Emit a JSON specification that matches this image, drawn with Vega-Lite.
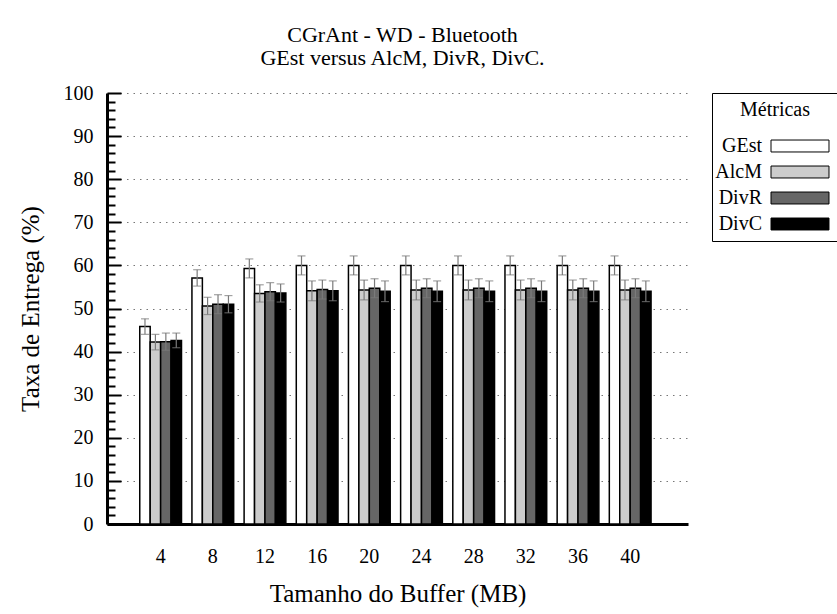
{
  "$schema": "https://vega.github.io/schema/vega-lite/v6.json",
  "width": 581,
  "height": 431,
  "autosize": {"type": "none"},
  "padding": {"left": 107, "top": 93, "right": 149, "bottom": 90},
  "background": "white",
  "config": {
    "font": "Liberation Serif",
    "view": {"stroke": null}
  },
  "title": {
    "text": ["CGrAnt - WD - Bluetooth", "GEst versus AlcM, DivR, DivC."],
    "font": "Liberation Serif",
    "fontSize": 22,
    "fontWeight": "normal",
    "color": "black",
    "lineHeight": 23,
    "anchor": "middle",
    "offset": 13,
    "dx": 5
  },
  "data": {
    "values": [
      {"buffer": 4, "metric": "GEst", "value": 45.8, "lo": 44.0, "hi": 47.6},
      {"buffer": 4, "metric": "AlcM", "value": 42.2, "lo": 40.4, "hi": 44.0},
      {"buffer": 4, "metric": "DivR", "value": 42.3, "lo": 40.3, "hi": 44.3},
      {"buffer": 4, "metric": "DivC", "value": 42.6, "lo": 40.9, "hi": 44.3},
      {"buffer": 8, "metric": "GEst", "value": 57.1, "lo": 55.2, "hi": 59.0},
      {"buffer": 8, "metric": "AlcM", "value": 50.6, "lo": 48.6, "hi": 52.6},
      {"buffer": 8, "metric": "DivR", "value": 51.0, "lo": 48.8, "hi": 53.2},
      {"buffer": 8, "metric": "DivC", "value": 51.0, "lo": 49.0, "hi": 53.0},
      {"buffer": 12, "metric": "GEst", "value": 59.3, "lo": 57.1, "hi": 61.5},
      {"buffer": 12, "metric": "AlcM", "value": 53.5, "lo": 51.5, "hi": 55.5},
      {"buffer": 12, "metric": "DivR", "value": 53.9, "lo": 51.8, "hi": 56.0},
      {"buffer": 12, "metric": "DivC", "value": 53.6, "lo": 51.5, "hi": 55.7},
      {"buffer": 16, "metric": "GEst", "value": 60.0, "lo": 57.8, "hi": 62.2},
      {"buffer": 16, "metric": "AlcM", "value": 54.1, "lo": 51.8, "hi": 56.4},
      {"buffer": 16, "metric": "DivR", "value": 54.4, "lo": 52.2, "hi": 56.6},
      {"buffer": 16, "metric": "DivC", "value": 54.1, "lo": 51.8, "hi": 56.4},
      {"buffer": 20, "metric": "GEst", "value": 60.0, "lo": 57.8, "hi": 62.2},
      {"buffer": 20, "metric": "AlcM", "value": 54.3, "lo": 52.0, "hi": 56.6},
      {"buffer": 20, "metric": "DivR", "value": 54.7, "lo": 52.5, "hi": 56.9},
      {"buffer": 20, "metric": "DivC", "value": 54.0, "lo": 51.6, "hi": 56.4},
      {"buffer": 24, "metric": "GEst", "value": 60.0, "lo": 57.8, "hi": 62.2},
      {"buffer": 24, "metric": "AlcM", "value": 54.3, "lo": 52.0, "hi": 56.6},
      {"buffer": 24, "metric": "DivR", "value": 54.7, "lo": 52.5, "hi": 56.9},
      {"buffer": 24, "metric": "DivC", "value": 54.0, "lo": 51.6, "hi": 56.4},
      {"buffer": 28, "metric": "GEst", "value": 60.0, "lo": 57.8, "hi": 62.2},
      {"buffer": 28, "metric": "AlcM", "value": 54.3, "lo": 52.0, "hi": 56.6},
      {"buffer": 28, "metric": "DivR", "value": 54.7, "lo": 52.5, "hi": 56.9},
      {"buffer": 28, "metric": "DivC", "value": 54.0, "lo": 51.6, "hi": 56.4},
      {"buffer": 32, "metric": "GEst", "value": 60.0, "lo": 57.8, "hi": 62.2},
      {"buffer": 32, "metric": "AlcM", "value": 54.3, "lo": 52.0, "hi": 56.6},
      {"buffer": 32, "metric": "DivR", "value": 54.7, "lo": 52.5, "hi": 56.9},
      {"buffer": 32, "metric": "DivC", "value": 54.0, "lo": 51.6, "hi": 56.4},
      {"buffer": 36, "metric": "GEst", "value": 60.0, "lo": 57.8, "hi": 62.2},
      {"buffer": 36, "metric": "AlcM", "value": 54.3, "lo": 52.0, "hi": 56.6},
      {"buffer": 36, "metric": "DivR", "value": 54.7, "lo": 52.5, "hi": 56.9},
      {"buffer": 36, "metric": "DivC", "value": 54.0, "lo": 51.6, "hi": 56.4},
      {"buffer": 40, "metric": "GEst", "value": 60.0, "lo": 57.8, "hi": 62.2},
      {"buffer": 40, "metric": "AlcM", "value": 54.3, "lo": 52.0, "hi": 56.6},
      {"buffer": 40, "metric": "DivR", "value": 54.7, "lo": 52.5, "hi": 56.9},
      {"buffer": 40, "metric": "DivC", "value": 54.0, "lo": 51.6, "hi": 56.4}
    ]
  },
  "encoding": {
    "x": {
      "field": "buffer",
      "type": "ordinal",
      "scale": {"paddingInner": 0.2, "paddingOuter": 0.668, "align": 0.47},
      "axis": {
        "title": "Tamanho do Buffer (MB)",
        "titleFont": "Liberation Serif",
        "titleFontSize": 25,
        "titleFontWeight": "normal",
        "titleColor": "black",
        "titlePadding": 15,
        "labelFont": "Liberation Serif",
        "labelFontSize": 20,
        "labelColor": "black",
        "labelAngle": 0,
        "labelPadding": 22,
        "ticks": false,
        "domainColor": "black",
        "domainWidth": 3,
        "grid": false
      }
    },
    "xOffset": {
      "field": "metric",
      "type": "nominal",
      "sort": ["GEst", "AlcM", "DivR", "DivC"],
      "scale": {"paddingInner": 0, "paddingOuter": 0}
    }
  },
  "layer": [
    {
      "mark": {"type": "bar", "stroke": "black", "strokeWidth": 1.5},
      "encoding": {
        "y": {
          "field": "value",
          "type": "quantitative",
          "scale": {"domain": [0, 100], "nice": false},
          "axis": {
            "title": "Taxa de Entrega (%)",
            "titleFont": "Liberation Serif",
            "titleFontSize": 25,
            "titleFontWeight": "normal",
            "titleColor": "black",
            "titlePadding": 20,
            "values": [0, 2, 4, 6, 8, 10, 12, 14, 16, 18, 20, 22, 24, 26, 28, 30, 32, 34, 36, 38, 40, 42, 44, 46, 48, 50, 52, 54, 56, 58, 60, 62, 64, 66, 68, 70, 72, 74, 76, 78, 80, 82, 84, 86, 88, 90, 92, 94, 96, 98, 100],
            "tickCount": 200,
            "format": "d",
            "labelExpr": "datum.value % 10 === 0 ? datum.label : ''",
            "labelOverlap": false,
            "labelBound": false,
            "labelFont": "Liberation Serif",
            "labelFontSize": 20,
            "labelColor": "black",
            "labelPadding": 28,
            "tickSize": {"condition": {"test": "datum.value % 10 === 0", "value": -14}, "value": -8},
            "tickColor": "black",
            "tickWidth": 2,
            "domainColor": "black",
            "domainWidth": 3,
            "grid": true,
            "gridColor": "#777777",
            "gridDash": [1.5, 5],
            "gridWidth": 1,
            "gridOpacity": {"condition": {"test": "datum.value % 10 === 0 && datum.value > 0", "value": 1}, "value": 0}
          }
        },
        "fill": {
          "field": "metric",
          "type": "nominal",
          "scale": {"domain": ["GEst", "AlcM", "DivR", "DivC"], "range": ["#ffffff", "#cccccc", "#666666", "#000000"]},
          "legend": {
            "orient": "none",
            "legendX": 605,
            "legendY": 0,
            "title": "Métricas",
            "titleFont": "Liberation Serif",
            "titleFontSize": 20,
            "titleFontWeight": "normal",
            "titleColor": "black",
            "titleAnchor": "middle",
            "titlePadding": 16,
            "labelFont": "Liberation Serif",
            "labelFontSize": 20,
            "labelColor": "black",
            "labelAlign": "right",
            "labelOffset": -48,
            "symbolOffset": 71,
            "symbolType": "M-4.46,-0.92H4.46V0.92H-4.46Z",
            "symbolSize": 169,
            "symbolStrokeColor": "black",
            "symbolStrokeWidth": 1,
            "symbolOpacity": 1,
            "rowPadding": 6,
            "padding": 7,
            "strokeColor": "black",
            "fillColor": "white"
          }
        }
      }
    },
    {
      "mark": {"type": "rule", "color": "#7a7a7a", "strokeWidth": 1.2},
      "encoding": {
        "y": {"field": "lo", "type": "quantitative", "scale": {"domain": [0, 100], "nice": false}},
        "y2": {"field": "hi"}
      }
    },
    {
      "mark": {"type": "tick", "color": "#7a7a7a", "size": 8, "thickness": 1.2},
      "encoding": {
        "y": {"field": "lo", "type": "quantitative", "scale": {"domain": [0, 100], "nice": false}}
      }
    },
    {
      "mark": {"type": "tick", "color": "#7a7a7a", "size": 8, "thickness": 1.2},
      "encoding": {
        "y": {"field": "hi", "type": "quantitative", "scale": {"domain": [0, 100], "nice": false}}
      }
    }
  ]
}
